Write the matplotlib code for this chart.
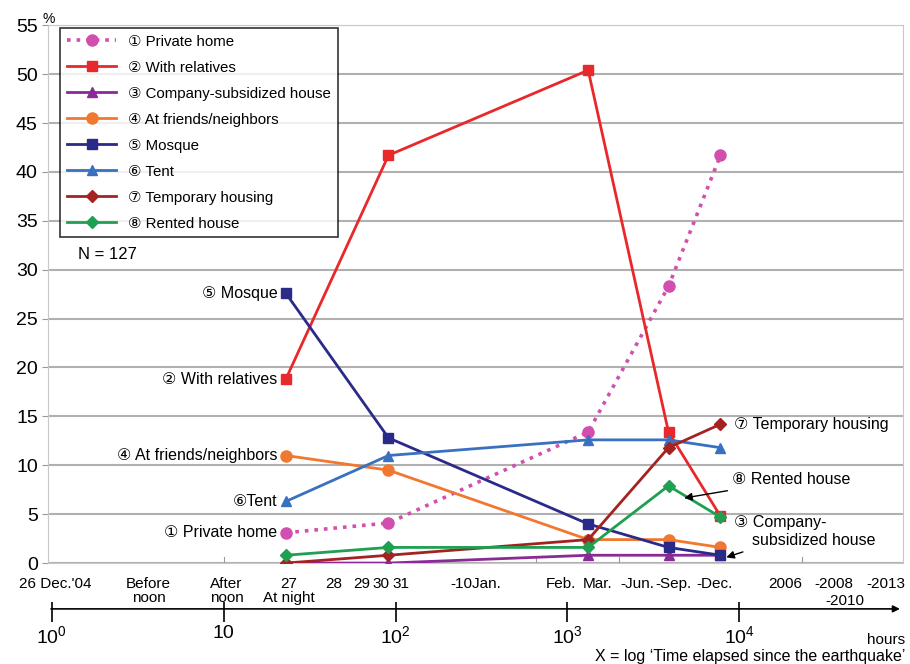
import matplotlib.pyplot as plt
import numpy as np

plt.rcParams['font.family'] = ['Liberation Sans', 'DejaVu Sans']
plt.rcParams['mathtext.fontset'] = 'custom'
plt.rcParams['mathtext.rm'] = 'Liberation Sans'
plt.rcParams['mathtext.it'] = 'Liberation Sans'

# elapsed hours of the survey points: 27 night, 30-31 Dec, Mar, Sep, Dec
hours = [23, 91, 1320, 3870, 7760]

names = ["① Private home", "② With relatives", "③ Company-subsidized house",
         "④ At friends/neighbors", "⑤ Mosque", "⑥ Tent",
         "⑦ Temporary housing", "⑧ Rented house"]
private_home = [3.1, 4.1, 13.4, 28.3, 41.7]
with_relatives = [18.8, 41.7, 50.4, 13.4, 4.8]
company_house = [0, 0, 0.8, 0.8, 0.8]
friends = [11.0, 9.5, 2.4, 2.4, 1.6]
mosque = [27.6, 12.8, 4.0, 1.6, 0.8]
tent = [6.3, 11.0, 12.6, 12.6, 11.8]
temporary = [0, 0.8, 2.4, 11.8, 14.2]
rented = [0.8, 1.6, 1.6, 7.9, 4.7]

series = [private_home, with_relatives, company_house, friends,
          mosque, tent, temporary, rented]
colors = ["#d24fb0", "#e8282a", "#8a2a96", "#f07830",
          "#2a2a88", "#3a70c0", "#a52222", "#1fa050"]
markers = ["o", "s", "^", "o", "s", "^", "D", "D"]

# calendar labels under the plot: (hours, text)
cal_labels = [(1.05, "26 Dec.'04"), (3.66, "Before\nnoon"), (10.4, "After\nnoon"),
              (24, "27\nAt night"), (43.6, "28"), (64, "29"), (82, "30"), (108, "31"),
              (292, "-10Jan."), (910, "Feb."), (1490, "Mar."), (2550, "-Jun."),
              (4150, "-Sep."), (7200, "-Dec."), (18600, "2006"), (35300, "-2008"),
              (71000, "-2013")]
sep_ticks = [10, 660, 2000, 23000]

fig = plt.figure(figsize=(9.1, 6.64), dpi=100)
ax = fig.add_axes([0.053, 0.152, 0.939, 0.810])
xlim = (10 ** -0.02, 10 ** 4.95)

for i in range(len(series)):
    ls = ":" if i == 0 else "-"
    ms = 8 if markers[i] == "o" else 7.5
    if markers[i] == "D":
        ms = 6.5
    ax.plot(hours, series[i], color=colors[i], ls=ls, lw=2.6 if i == 0 else 2,
            marker=markers[i], ms=ms, label=names[i], zorder=3)

ax.set_xscale("log")
ax.set_xlim(*xlim)
ax.set_ylim(0, 55)
ax.set_yticks(np.arange(0, 56, 5))
ax.tick_params(axis="y", labelsize=14, length=4, color="#999999")
ax.set_xticks([])
ax.set_xticks([], minor=True)
for t in sep_ticks:
    ax.plot([t, t], [0, 0.6], color="#999999", lw=0.8, clip_on=False)
ax.grid(axis="y", color="#b0b0b0", lw=1.5)
for s in ax.spines.values():
    s.set_color("#c8c8c8")
ax.text(0.0, 55.6, "%", fontsize=10, transform=ax.get_yaxis_transform(),
        ha="center", va="center")

leg = ax.legend(loc="upper left", bbox_to_anchor=(0.014, 0.995), borderaxespad=0,
                fontsize=10.8, frameon=True, fancybox=False, edgecolor="black",
                handlelength=3.3, labelspacing=0.8, borderpad=0.45)
leg.get_frame().set_linewidth(1.2)
ax.text(0.035, 0.565, "N = 127", transform=ax.transAxes, fontsize=12)

# labels next to the first points
first = [(mosque[0], "⑤ Mosque"), (with_relatives[0], "② With relatives"),
         (friends[0], "④ At friends/neighbors"), (tent[0], "⑥Tent"),
         (private_home[0], "① Private home")]
for y, t in first:
    ax.text(hours[0] / 1.12, y, t, ha="right", va="center", fontsize=11.5)

ax.text(hours[4] * 1.2, temporary[4], "⑦ Temporary housing",
        ha="left", va="center", fontsize=11.5)
ax.annotate("⑧ Rented house", xy=(4600, 6.6), xytext=(9000, 8.5),
            ha="left", va="center", fontsize=11.5,
            arrowprops=dict(arrowstyle="-|>", color="black", lw=1))
ax.annotate("③ Company-\n    subsidized house", xy=(8100, 0.5), xytext=(9300, 3.2),
            ha="left", va="center", fontsize=11.5, linespacing=1.25,
            arrowprops=dict(arrowstyle="-|>", color="black", lw=1))

tr = ax.get_xaxis_transform()
for x, t in cal_labels:
    ax.text(x, -0.026, t, transform=tr, ha="center", va="top",
            fontsize=11, linespacing=1.0)
ax.text(41300, -0.057, "-2010", transform=tr, ha="center", va="top", fontsize=11)

# log time axis with arrow
ax2 = fig.add_axes([0.053, 0.078, 0.939, 0.01])
ax2.set_xscale("log")
ax2.set_xlim(*xlim)
ax2.set_ylim(0, 1)
for s in ax2.spines.values():
    s.set_visible(False)
ax2.set_yticks([])
ax2.annotate("", xy=(1.0, 0.5), xytext=(0.0, 0.5), xycoords="axes fraction",
             arrowprops=dict(arrowstyle="-|>", color="black", lw=1.2))
ax2.set_xticks([1, 10, 100, 1000, 10000])
ax2.set_xticklabels(["$10^0$", "10", "$10^2$", "$10^3$", "$10^4$"])
ax2.set_xticks([], minor=True)
ax2.tick_params(axis="x", direction="inout", length=14, width=1.2, labelsize=14, pad=2)
fig.text(0.995, 0.036, "hours", ha="right", va="center", fontsize=11)
fig.text(0.995, 0.012, "X = log \u2018Time elapsed since the earthquake\u2019",
         ha="right", va="center", fontsize=11.5)

fig.savefig("out.png", dpi=100)
